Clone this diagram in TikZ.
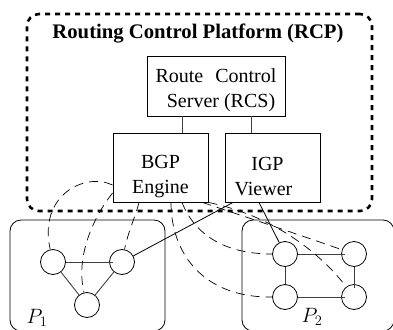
\documentclass[tikz,border=0pt]{standalone}
\usepackage{fontspec}
\setmainfont{Liberation Serif}
\tikzset{
  platform/.style={draw,rounded corners=12pt,line width=2.6pt,dash pattern=on 5pt off 5pt,minimum width=345pt,minimum height=197pt,inner sep=0pt},
  procbox/.style={draw,line width=0.9pt,inner sep=0pt,font=\fontsize{20}{25}\selectfont,align=center},
  aspath/.style={draw,line width=0.8pt,rounded corners=11pt,inner sep=0pt,minimum height=111pt},
  router/.style={circle,draw,line width=0.8pt,minimum size=25pt,inner sep=0pt},
  ibgp/.style={line width=0.7pt,dash pattern=on 9pt off 6pt},
  link/.style={line width=0.9pt,black!75},
  feed/.style={line width=0.8pt},
}
\begin{document}
\begin{tikzpicture}[x=1pt,y=-1pt]
\useasboundingbox (0,0) rectangle (393,329);
\clip (0,0) rectangle (393,329);
\node[platform] (rcp) at (199.5,112.5) {};
\node[font=\fontsize{20.7}{25}\selectfont\bfseries] (title) at (198,33) {Routing Control Platform (RCP)};
\node[procbox,minimum width=138pt,minimum height=60pt] (rcs) at (216,86) {\rule{0pt}{22pt}Route\hspace{0.6em}Control\\\hspace*{0.5em}Server (RCS)};
\node[procbox,minimum width=95pt,minimum height=69pt] (bgp) at (160.5,167.5) {\rule{0pt}{31pt}BGP\\Engine};
\node[procbox,minimum width=95pt,minimum height=69pt] (igp) at (272.5,167.5) {\rule{0pt}{31pt}IGP\hspace*{10pt}\mbox{}\\Viewer\hspace*{18pt}\mbox{}};
\node[aspath,minimum width=155pt] (p1) at (87.5,275.5) {};
\node[aspath,minimum width=152pt] (p2) at (318,275.5) {};
\node[font=\fontsize{20}{24}\selectfont] (l1) at (37,318) {$P_1$};
\node[font=\fontsize{20}{24}\selectfont] (l2) at (312,317) {$P_2$};
\node[router] (a) at (53,262) {};
\node[router] (b) at (122,262) {};
\node[router] (c) at (87,305) {};
\node[router] (d) at (285,254) {};
\node[router] (e) at (354,254) {};
\node[router] (f) at (285,297) {};
\node[router] (g) at (354,297) {};
% RCP internal links
\draw[link] ([xshift=-34pt]rcs.south) -- ([xshift=21.5pt]bgp.north);
\draw[link] ([xshift=35pt]rcs.south) -- ([xshift=-21.5pt]igp.north);
% physical links
\draw[link,shorten >=-4pt] (a) -- (b);
\draw[link] (a) -- (c);
\draw[link] (b) -- (c);
\draw[link,shorten >=-4pt] (d) -- (e);
\draw[link,shorten >=-4pt] (f) -- (g);
\draw[link] (d) -- (f);
\draw[link,shorten >=-4pt] (e) -- (g);
% IGP viewer feeds
\draw[feed] ([xshift=-39.5pt]igp.south) -- (b);
\draw[feed] ([xshift=-13.5pt]igp.south) -- (d);
% iBGP sessions
\draw[ibgp] ([yshift=-17.5pt]bgp.west) .. controls (85,172) and (38,195) .. (a);
\draw[ibgp] ([yshift=-25.5pt]bgp.west) .. controls (95,215) and (75,255) .. (c);
\draw[ibgp] ([xshift=-21.5pt]bgp.south) .. controls (136,215) and (128,232) .. (b);
\draw[ibgp] ([xshift=10.5pt]bgp.south) .. controls (171,255) and (205,298) .. (f.west);
\draw[ibgp] ([xshift=21.5pt]bgp.south) .. controls (195,235) and (225,254) .. (d.west);
\draw[ibgp] ([xshift=42pt]bgp.south) .. controls (240,215) and (300,235) .. (e);
\draw[ibgp] ([xshift=48pt]bgp.south) .. controls (270,215) and (318,250) .. (g);
\end{tikzpicture}
\end{document}
